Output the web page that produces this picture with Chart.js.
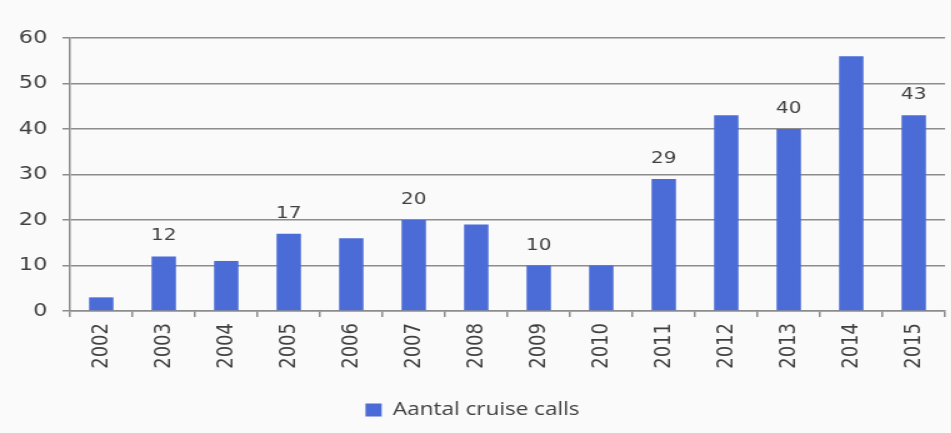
<!DOCTYPE html>
<html lang="nl">
<head>
<meta charset="UTF-8">
<title>Aantal cruise calls</title>
<script src="https://cdn.jsdelivr.net/npm/chart.js"></script>
<style>
  html, body { margin: 0; padding: 0; background: #fafafa; overflow: hidden; }
  /* the original picture is stretched sideways, so the canvas is drawn narrower and widened */
  #chart { display: block; transform: scaleX(1.25); transform-origin: 0 0; }
</style>
</head>
<body>
<canvas id="chart" width="761" height="433"></canvas>

<script>
// data
const years = ["2002", "2003", "2004", "2005", "2006", "2007", "2008",
               "2009", "2010", "2011", "2012", "2013", "2014", "2015"];
const cruiseCalls = [3, 12, 11, 17, 16, 20, 19, 10, 10, 29, 43, 40, 56, 43];
// only every other year has its number printed
const shownLabels = [null, 12, null, 17, null, 20, null, 10, null, 29, null, 40, null, 43];
const yTicks = [0, 10, 20, 30, 40, 50, 60];

const textColor = "#404040";
const gridColor = "#8c8c8c";
const barColor = "#4b6bd6";

// small plugin to print the values above the bars
const barValues = {
    id: "barValues",
    afterDatasetsDraw(chart) {
        const ctx = chart.ctx;
        const meta = chart.getDatasetMeta(0);
        ctx.save();
        ctx.font = "16px 'DejaVu Sans'";
        ctx.fillStyle = textColor;
        ctx.textAlign = "center";
        ctx.textBaseline = "alphabetic";
        meta.data.forEach((bar, i) => {
            if (shownLabels[i] === null) return;
            ctx.fillText(String(shownLabels[i]), bar.x, bar.y - 16);
        });
        ctx.restore();
    }
};

new Chart(document.getElementById("chart"), {
    type: "bar",
    data: {
        labels: years,
        datasets: [{
            label: "Aantal cruise calls",
            data: cruiseCalls,
            backgroundColor: barColor,
            borderWidth: 0,
            barPercentage: 0.39,
            categoryPercentage: 1
        }]
    },
    options: {
        responsive: false,
        animation: false,
        layout: { padding: { top: 38, right: 5, bottom: 4, left: 0 } },
        plugins: {
            tooltip: { enabled: false },
            legend: {
                position: "bottom",
                labels: {
                    color: textColor,
                    font: { family: "'Open Sans'", size: 18 },
                    boxWidth: 13,
                    boxHeight: 13,
                    padding: 10
                }
            }
        },
        scales: {
            x: {
                afterFit: s => { s.height = 80; },
                grid: {
                    offset: true,
                    drawOnChartArea: false,
                    drawTicks: true,
                    tickLength: 6,
                    color: gridColor,
                    lineWidth: 1.5
                },
                border: { color: gridColor, width: 1.5 },
                ticks: {
                    color: textColor,
                    font: { family: "'DejaVu Sans'", size: 18 },
                    minRotation: 90,
                    maxRotation: 90,
                    padding: 6
                }
            },
            y: {
                min: 0,
                max: 60,
                afterFit: s => { s.width = 56; },
                afterBuildTicks: s => { s.ticks = yTicks.map(v => ({ value: v })); },
                grid: {
                    color: gridColor,
                    lineWidth: 1.5,
                    tickLength: 6
                },
                border: { color: gridColor, width: 1.5 },
                ticks: {
                    color: textColor,
                    font: { family: "'DejaVu Sans'", size: 18 },
                    padding: 12
                }
            }
        }
    },
    plugins: [barValues]
});
</script>
</body>
</html>
